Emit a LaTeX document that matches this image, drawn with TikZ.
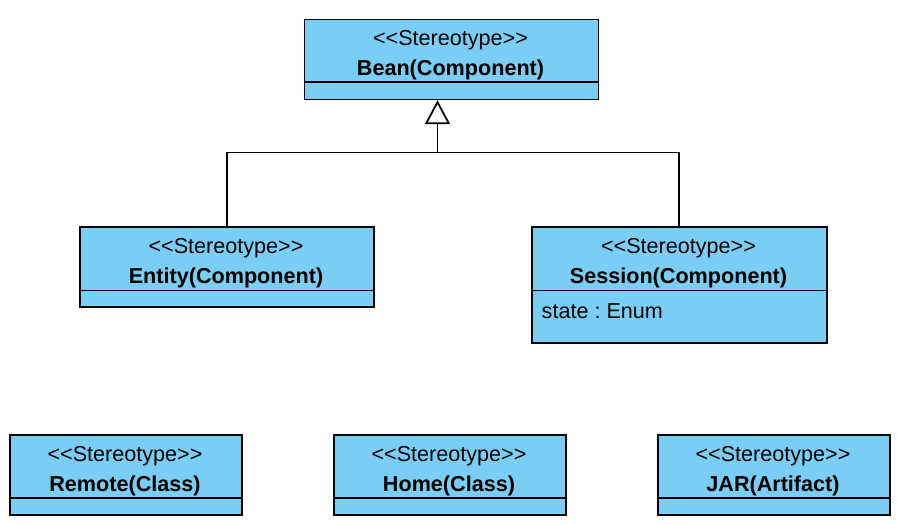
\documentclass[tikz,border=0pt]{standalone}
\usepackage{fontspec}
\newfontfamily\umlfont{Liberation Sans}
\usetikzlibrary{arrows.meta}
\definecolor{clsfill}{RGB}{122,206,244}
\frenchspacing
\tikzset{
  cls/.style={draw=black, line width=1.7pt, fill=clsfill, rectangle, anchor=north west, inner sep=0pt, minimum width=#1},
  sep/.style={line width=1.7pt},
  txt/.style={anchor=base, inner sep=0pt, font=\umlfont\fontsize{21.6}{25}\selectfont},
  btxt/.style={txt, font=\umlfont\bfseries\fontsize{21.6}{25}\selectfont},
  ltxt/.style={anchor=base west, inner sep=0pt, font=\umlfont\fontsize{21.6}{25}\selectfont},
  conn/.style={line width=1.8pt},
  gen/.style={line width=1.8pt, -{Triangle[open, length=24pt, width=25pt, line width=1.8pt]}}
}
\begin{document}
\begin{tikzpicture}[x=1pt, y=-1pt]
\useasboundingbox (0,0) rectangle (897,523);
% Bean
\node[cls=294pt, minimum height=80pt] (bean) at (303.5,18.5) {};
\draw[sep] (303.5,82) -- (597.5,82);
\node[txt] (beanst) at (450.5,45) {<<Stereotype>>};
\node[btxt] (beann) at (450.5,75.5) {Bean(Component)};
% Entity
\node[cls=294pt, minimum height=80pt] (entity) at (79,226) {};
\draw[sep] (79,290.5) -- (373,290.5);
\node[txt] (entst) at (226,253) {<<Stereotype>>};
\node[btxt] (entn) at (226,283.5) {Entity(Component)};
% Session
\node[cls=295pt, minimum height=116pt] (session) at (531,226) {};
\draw[sep] (531,290.5) -- (826,290.5);
\node[txt] (sesst) at (678.5,253) {<<Stereotype>>};
\node[btxt] (sesn) at (678.5,283.5) {Session(Component)};
\node[ltxt] (sesa) at (541.5,318) {state : Enum};
% Remote
\node[cls=232pt, minimum height=80pt] (remote) at (9,434) {};
\draw[sep] (9,498) -- (241,498);
\node[txt] (remst) at (125,461) {<<Stereotype>>};
\node[btxt] (remn) at (125,491.5) {Remote(Class)};
% Home
\node[cls=232pt, minimum height=80pt] (home) at (333,434) {};
\draw[sep] (333,498) -- (565,498);
\node[txt] (homst) at (449,461) {<<Stereotype>>};
\node[btxt] (homn) at (449,491.5) {Home(Class)};
% JAR
\node[cls=232pt, minimum height=80pt] (jar) at (657,434) {};
\draw[sep] (657,498) -- (889,498);
\node[txt] (jarst) at (773,461) {<<Stereotype>>};
\node[btxt] (jarn) at (773,491.5) {JAR(Artifact)};
% Generalization
\coordinate (j) at (437.5,152.5);
\draw[conn] (entity.north) |- (j);
\draw[conn] (session.north) |- (j);
\draw[gen] (j) -- (j |- bean.south);
\end{tikzpicture}
\end{document}
